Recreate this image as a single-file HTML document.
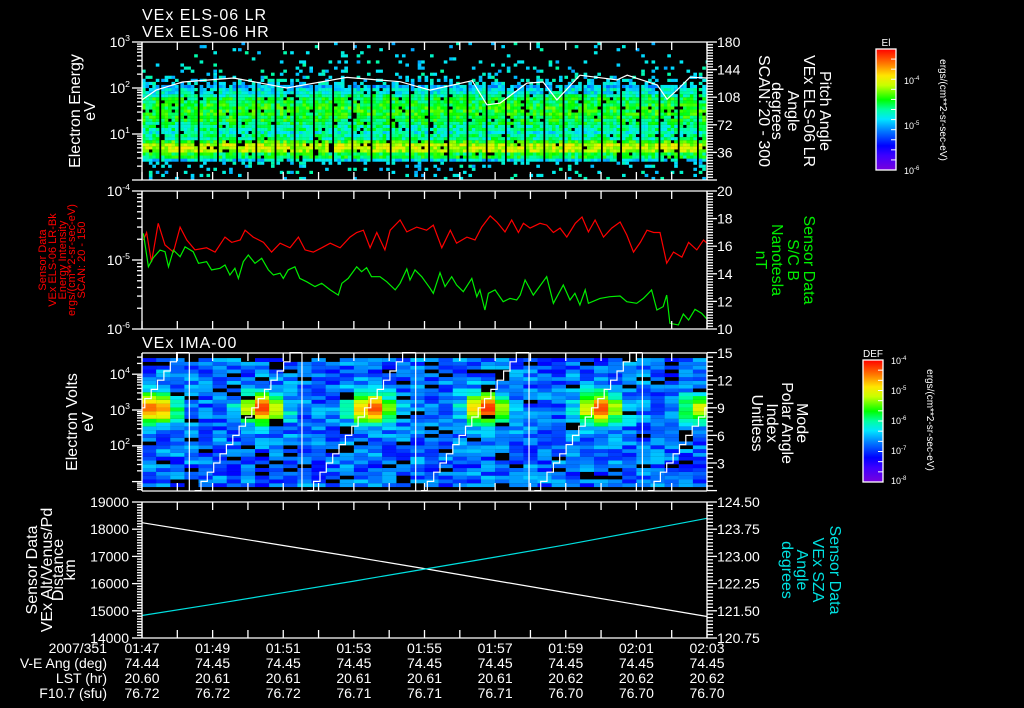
<!DOCTYPE html>
<html><head><meta charset="utf-8"><style>
html,body{margin:0;padding:0;background:#000;}
svg{display:block;}
text{font-family:"Liberation Sans",sans-serif;}
</style></head><body>
<svg id="chart" width="1024" height="708" viewBox="0 0 1024 708" xmlns="http://www.w3.org/2000/svg">
<defs>
<linearGradient id="cmap" x1="0" y1="1" x2="0" y2="0">
<stop offset="0" stop-color="rgb(120,0,220)"/><stop offset="0.12" stop-color="rgb(60,0,255)"/><stop offset="0.2" stop-color="rgb(0,0,255)"/><stop offset="0.32" stop-color="rgb(0,120,255)"/><stop offset="0.42" stop-color="rgb(0,230,255)"/><stop offset="0.5" stop-color="rgb(0,255,160)"/><stop offset="0.58" stop-color="rgb(0,255,0)"/><stop offset="0.7" stop-color="rgb(200,255,0)"/><stop offset="0.78" stop-color="rgb(255,230,0)"/><stop offset="0.88" stop-color="rgb(255,120,0)"/><stop offset="1" stop-color="rgb(255,0,0)"/>
</linearGradient>
</defs>
<g id="p1cells"></g>
<g id="p3cells"></g>
<g id="lines"></g>
<g id="axes"></g>
<g id="labels"></g>
</svg>
<script>
// ---- time axis ----
const timeTickLabels = ["01:47","01:49","01:51","01:53","01:55","01:57","01:59","02:01","02:03"];
const veAngLabels = ["74.44","74.45","74.45","74.45","74.45","74.45","74.45","74.45","74.45"];
const lstLabels = ["20.60","20.61","20.61","20.61","20.61","20.61","20.62","20.62","20.62"];
const f107Labels = ["76.72","76.72","76.72","76.71","76.71","76.71","76.70","76.70","76.70"];

// ---- panel 1 (ELS) ----
const elsProfile = [0,0,0,0.02,0.42,0.55,0.68,0.7,0.6,0.5,0.46,0.5,0.53,0.56,0.58,0.58,0.57,0.55,0.5,0.44,0.38,0.05,0,0,0,0,0,0,0,0];
const elsSpeckle = [0.1,0.12,0.15,0.25,0,0,0,0,0,0,0,0,0,0,0,0,0,0,0,0,0.3,0.45,0.3,0.2,0.14,0.1,0.08,0.07,0.06,0.06];
const elsLineTimes = [0,0.4,1.15,2.6,4.1,5.8,7.31,8.16,9.35,9.77,10.14,10.9,11.36,11.75,12.4,13.45,13.74,14.59,14.87,15.15,15.52,16];
const elsLineValues = [55,90,135,165,100,170,137,90,144,43,47,128,135,55,190,150,190,117,57,90,172,165];

// ---- panel 2 ----
const redTimes = [0.04,0.13,0.27,0.46,0.65,0.89,1.08,1.27,1.5,1.83,2.07,2.35,2.54,2.78,2.92,3.15,3.44,3.67,3.91,4.19,4.43,4.62,4.85,5.09,5.33,5.61,5.89,6.08,6.27,6.46,6.65,6.88,7.03,7.31,7.5,7.78,8.06,8.25,8.49,8.73,8.91,9.2,9.43,9.62,9.86,10.05,10.28,10.47,10.66,10.8,10.99,11.27,11.46,11.65,11.84,12.03,12.27,12.46,12.64,12.83,13.07,13.3,13.54,13.73,13.92,14.11,14.3,14.49,14.67,14.86,15.05,15.29,15.48,15.71,15.9,16];
const redValues = [1.95e-5,2.5e-5,0.93e-5,3.4e-5,1.65e-5,1.3e-5,3.0e-5,1.95e-5,1.4e-5,1.5e-5,1.3e-5,2.15e-5,1.8e-5,1.95e-5,2.7e-5,2.15e-5,1.8e-5,1.3e-5,1.75e-5,1.5e-5,2.15e-5,1.4e-5,1.3e-5,1.5e-5,1.75e-5,1.5e-5,2.15e-5,2.5e-5,2.7e-5,1.5e-5,2.5e-5,1.4e-5,2.7e-5,3.8e-5,2.55e-5,3.0e-5,2.7e-5,3.2e-5,1.5e-5,2.7e-5,1.75e-5,2.15e-5,1.95e-5,3.0e-5,4.35e-5,3.55e-5,2.55e-5,3.8e-5,2.5e-5,3.4e-5,2.9e-5,3.4e-5,3.2e-5,2.5e-5,2.9e-5,2.15e-5,3.4e-5,4.2e-5,2.55e-5,3.8e-5,2.15e-5,2.9e-5,3.55e-5,2.3e-5,1.3e-5,1.8e-5,2.7e-5,2.5e-5,2.5e-5,0.9e-5,1.3e-5,1.1e-5,1.8e-5,1.4e-5,1.95e-5,1.75e-5];
const greenTimes = [0.04,0.18,0.32,0.51,0.65,0.75,0.89,1.08,1.22,1.45,1.6,1.83,1.97,2.21,2.35,2.49,2.63,2.73,2.87,3.01,3.2,3.39,3.58,3.72,3.91,4.0,4.14,4.33,4.47,4.66,4.9,5.09,5.33,5.56,5.66,5.84,6.08,6.22,6.36,6.5,6.74,6.93,7.17,7.31,7.5,7.59,7.73,7.92,8.16,8.25,8.44,8.58,8.77,8.91,9.1,9.34,9.48,9.57,9.71,9.81,10.0,10.23,10.42,10.61,10.71,10.85,11.08,11.46,11.65,11.93,12.12,12.26,12.4,12.55,12.64,12.97,13.25,13.54,13.73,14.01,14.2,14.34,14.43,14.58,14.76,14.86,14.95,15.19,15.33,15.48,15.66,15.85,16];
const greenValues = [16.93,14.51,15.17,15.72,15.6,14.51,15.72,15.24,15.96,15.6,14.76,14.88,14.28,14.4,14.64,13.91,14.4,13.67,14.88,15.36,14.76,15.12,14.28,13.91,14.04,13.67,14.28,14.51,13.67,13.43,13.07,13.31,12.83,12.46,13.31,13.67,14.51,14.15,14.44,13.79,13.79,13.43,12.83,13.31,14.35,13.55,14.28,13.79,12.95,12.59,14.08,13.07,13.79,13.19,12.7,13.67,12.34,12.83,11.38,12.59,12.83,11.98,12.22,12.1,12.46,13.55,12.46,13.79,11.86,13.19,12.1,12.59,11.74,12.83,11.86,12.22,12.34,12.39,11.98,11.86,12.22,12.59,12.83,11.38,11.62,12.46,10.41,10.29,11.09,10.65,11.43,11.14,10.71];

// ---- panel 3 (IMA) ----
const imaPeakTimes = [0.37,3.4,6.5,9.75,12.97,15.85];
const imaPeakAmps = [0.95,0.95,0.95,0.97,0.93,0.6];
const imaPeakEnergyLog = 3.05;
const imaDropTimes = [-1.87,1.34,4.53,7.75,10.96,14.17];

// ---- panel 4 ----
const geoTimes = [0,2,4,6,8,10,12,14,16];
const distValues = [18240,17820,17400,16980,16550,16110,15670,15230,14790];
const szaValues = [121.37,121.68,122.0,122.32,122.65,122.98,123.32,123.68,124.05];

const NS="http://www.w3.org/2000/svg";
const X0=142,X1=707,T1=16;
const xs=t=>X0+t/T1*(X1-X0);
const P1={top:42,bot:180},P2={top:191,bot:329},P3={top:353,bot:491},P4={top:502,bot:638};
const y1=v=>P1.bot-(Math.log10(v)-0)/3*(P1.bot-P1.top);
const y2L=v=>P2.bot-(Math.log10(v)+6)/2*(P2.bot-P2.top);
const y2R=v=>P2.bot-(v-10)/10*(P2.bot-P2.top);
const y3=le=>410-(le-3)*35.8;
const y3R=v=>490.6-v*9.2;
const y4L=v=>P4.bot-(v-14000)/5000*(P4.bot-P4.top);
const y4R=v=>P4.bot-(v-120.75)/3.75*(P4.bot-P4.top);

const stops=[[0,120,0,220],[0.12,60,0,255],[0.2,0,0,255],[0.32,0,120,255],[0.42,0,230,255],[0.5,0,255,160],[0.58,0,255,0],[0.7,200,255,0],[0.78,255,230,0],[0.88,255,120,0],[1,255,0,0]];
function cmap(f){f=Math.max(0,Math.min(1,f));for(let i=1;i<stops.length;i++){if(f<=stops[i][0]){const a=stops[i-1],b=stops[i],u=(f-a[0])/(b[0]-a[0]);return `rgb(${Math.round(a[1]+u*(b[1]-a[1]))},${Math.round(a[2]+u*(b[2]-a[2]))},${Math.round(a[3]+u*(b[3]-a[3]))})`;}}return "rgb(255,0,0)";}
function hash(i,j,k){let n=Math.imul(i,374761393)+Math.imul(j,668265263)+Math.imul(k||0,2246822519);n=Math.imul(n^(n>>>13),1274126177);n=n^(n>>>16);return (n>>>0)/4294967296;}

function mk(tag,attrs,parent){const e=document.createElementNS(NS,tag);for(const k in attrs)e.setAttribute(k,attrs[k]);parent.appendChild(e);return e;}

// ---- panel 1 cells ----
const g1=document.getElementById('p1cells');
const sweepW=19.2, cellW=3.44, nCellsPerSweep=5;
const ebinsPerDec=15, eH=(P1.bot-P1.top)/3/ebinsPerDec;
let s=0;
for(let sx=X0; sx<X1; sx+=sweepW, s++){
  for(let c=0;c<nCellsPerSweep;c++){
    const cx=sx+c*cellW; if(cx>=X1) break;
    const w=Math.min(cellW+0.2,X1-cx);
    for(let j=0;j<3*ebinsPerDec;j++){
      const le=(j+0.5)/ebinsPerDec;
      const pi=Math.min(29,Math.floor(le*10));
      const prof=elsProfile[pi], sp=elsSpeckle[pi];
      const h=hash(s*7+c,j,1), h2=hash(s*7+c,j,2);
      let f=null;
      if(prof>0.1){ if(h2<0.05) continue; f=prof+(h-0.5)*0.16; }
      else if(h<sp){ f=0.36+h2*0.14; }
      if(f===null) continue;
      const r=document.createElementNS(NS,'rect');
      r.setAttribute('x',cx.toFixed(2));r.setAttribute('y',(P1.bot-(j+1)*eH).toFixed(2));
      r.setAttribute('width',w.toFixed(2));r.setAttribute('height',(eH+0.1).toFixed(2));
      r.setAttribute('fill',cmap(f));
      
      
      g1.appendChild(r);
    }
  }
}

// ---- panel 3 cells ----
const g3=document.getElementById('p3cells');
const imaCellW=14.125, imaLo=0.85, imaHi=4.45, imaNb=34, imaStep=(imaHi-imaLo)/imaNb;
for(let i=0;i<40;i++){
  const t=(i+0.5)*imaCellW/(X1-X0)*T1;
  for(let j=0;j<imaNb;j++){
    const le=imaLo+(j+0.5)*imaStep;
    const h=hash(i,j,5),h2=hash(i,j,6);
    if(h2<0.08) continue;
    let pk=0;
    for(let k=0;k<imaPeakTimes.length;k++){
      const dt=(t-imaPeakTimes[k])/0.6, de=(le-imaPeakEnergyLog)/0.42;
      pk=Math.max(pk,imaPeakAmps[k]*Math.exp(-dt*dt-de*de));
    }
    const bg=0.2+0.2*h;
    const f=bg+(0.98-bg)*pk;
    const r=document.createElementNS(NS,'rect');
    r.setAttribute('x',(X0+i*imaCellW).toFixed(2));r.setAttribute('y',y3(le+imaStep/2).toFixed(2));
    r.setAttribute('width',(imaCellW+0.2).toFixed(2));r.setAttribute('height',(imaStep*35.8+0.1).toFixed(2));
    r.setAttribute('fill',cmap(f));
    
    
    g3.appendChild(r);
  }
}

// ---- lines ----
const gl=document.getElementById('lines');
function poly(pts,color,name){
  const p=document.createElementNS(NS,'polyline');
  p.setAttribute('points',pts.map(q=>q[0].toFixed(1)+','+q[1].toFixed(1)).join(' '));
  p.setAttribute('fill','none');p.setAttribute('stroke',color);p.setAttribute('stroke-width','1.2');
  
  
  gl.appendChild(p);
}
poly(elsLineTimes.map((t,i)=>[xs(t),y1(elsLineValues[i])]),'#fff','els-energy-line');
poly(redTimes.map((t,i)=>[xs(t),y2L(redValues[i])]),'#ff0000','energy-intensity-line');
poly(greenTimes.map((t,i)=>[xs(t),y2R(greenValues[i])]),'#00ee00','sc-b-line');
// staircase: one polyline per sweep
for(let k=0;k<imaDropTimes.length;k++){
  const td=imaDropTimes[k], next=k+1<imaDropTimes.length?Math.min(imaDropTimes[k+1],T1):T1;
  const pts=[];
  for(let st=0;st<16;st++){
    let ta=td+0.15+st*0.18, tb=(st===15)?next:ta+0.18;
    if(tb<=0||ta>=next) continue;
    ta=Math.max(0,ta); tb=Math.min(tb,next);
    pts.push([xs(ta),y3R(st)],[xs(tb),y3R(st)]);
  }
  if(pts.length) poly(pts,'#fff','polar-angle-index-line');
  if(td>0){ const l=mk('line',{x1:xs(td),x2:xs(td),y1:P3.top,y2:P3.bot,stroke:'#fff','stroke-width':1.2},gl);   }
}
poly(geoTimes.map((t,i)=>[xs(t),y4L(distValues[i])]),'#fff','distance-line');
poly(geoTimes.map((t,i)=>[xs(t),y4R(szaValues[i])]),'#00e0e0','sza-line');

// ---- axes ----
const ga=document.getElementById('axes');
function ln(x1,y1_,x2,y2_){mk('line',{x1:x1,y1:y1_,x2:x2,y2:y2_,stroke:'#fff','stroke-width':1.3},ga);}
function txt(x,y,s,opt,parent){opt=opt||{};const t=mk('text',{x:x,y:y,fill:opt.fill||'#fff','font-size':opt.size||14,'text-anchor':opt.anchor||'start'},parent||document.getElementById('labels'));if(opt.rot!==undefined)t.setAttribute('transform',`rotate(${opt.rot} ${x} ${y})`);if(opt.ls)t.setAttribute('letter-spacing',opt.ls);t.textContent=s;return t;}
function supTxt(x,y,base,exp,name,size){const t=mk('text',{x:x,y:y,fill:'#fff','font-size':size||14,'text-anchor':'end'},document.getElementById('labels'));const a=mk('tspan',{},t);a.textContent=base;const b=mk('tspan',{'font-size':(size||14)*0.62,dy:-6},t);b.textContent=exp;return t;}
[P1,P2,P3,P4].forEach((P,k)=>{
  ln(X0,P.top,X1,P.top);ln(X0,P.bot,X1,P.bot);ln(X0,P.top,X0,P.bot);ln(X1,P.top,X1,P.bot);
  for(let m=0;m<=16;m++){const x=xs(m);ln(x,P.top,x,P.top+8);ln(x,P.bot,x,P.bot-8);}
});
function logTicks(P,lo,hi){for(let d=lo;d<hi;d++){for(let m=1;m<10;m++){const v=d+Math.log10(m);const y=P.bot-(v-lo)/(hi-lo)*(P.bot-P.top);ln(X0-(m===1?10:5),y,X0,y);}}ln(X0-10,P.top,X0,P.top);}
logTicks(P1,0,3);logTicks(P2,-6,-4);
for(let d=0;d<5;d++)for(let m=1;m<10;m++){const y=y3(d+Math.log10(m));if(y>=P3.top&&y<=P3.bot)ln(X0-(m===1?10:5),y,X0,y);}
function linTicksR(P,n,minor){for(let i=0;i<=n*minor;i++){const y=P.bot-i/(n*minor)*(P.bot-P.top);ln(X1,y,X1+(i%minor===0?10:6),y);}}
linTicksR(P1,5,10);linTicksR(P2,5,10);linTicksR(P4,5,8);
for(let i=0;i<=30;i++){const y=y3R(i*0.5);if(y>=P3.top-0.5)ln(X1,y,X1+(i%6===0?10:6),y);}
for(let i=0;i<=50;i++){const y=P4.bot-i/50*(P4.bot-P4.top);ln(X0-(i%10===0?10:5),y,X0,y);}

// ---- tick labels ----
supTxt(130,47,'10','3','y-tick-1e3');supTxt(130,93,'10','2','y-tick-1e2');supTxt(130,139,'10','1','y-tick-1e1');
supTxt(130,196,'10','-4','y-tick-1e-4');supTxt(130,265,'10','-5','y-tick-1e-5');supTxt(130,334,'10','-6','y-tick-1e-6');
supTxt(130,379,'10','4','y-tick-1e4');supTxt(130,415,'10','3','y-tick-1e3');supTxt(130,450,'10','2','y-tick-1e2');
['180','144','108','72','36'].forEach((s,i)=>txt(717,47+i*27.6,s,{name:'pitch-tick'}));
['20','18','16','14','12','10'].forEach((s,i)=>txt(717,196+i*27.6,s,{name:'bfield-tick'}));
['15','12','9','6','3'].forEach((s,i)=>txt(717,358+i*27.6,s,{name:'polar-index-tick'}));
['19000','18000','17000','16000','15000','14000'].forEach((s,i)=>txt(129,507+i*27.2,s,{anchor:'end',name:'distance-tick'}));
['124.50','123.75','123.00','122.25','121.50','120.75'].forEach((s,i)=>txt(717,507+i*27.2,s,{name:'sza-tick'}));
timeTickLabels.forEach((s,i)=>txt(xs(i*2),653,s,{anchor:'middle',name:'time-tick'}));
veAngLabels.forEach((s,i)=>txt(xs(i*2),668,s,{anchor:'middle',name:'ve-angle-value'}));
lstLabels.forEach((s,i)=>txt(xs(i*2),683,s,{anchor:'middle',name:'lst-value'}));
f107Labels.forEach((s,i)=>txt(xs(i*2),698,s,{anchor:'middle',name:'f107-value'}));
txt(107,653,'2007/351',{anchor:'end',name:'date-label'});
txt(107,668,'V-E Ang (deg)',{anchor:'end',name:'ve-angle-label'});
txt(107,683,'LST (hr)',{anchor:'end',name:'lst-label'});
txt(107,698,'F10.7 (sfu)',{anchor:'end',name:'f107-label'});

// ---- titles ----
txt(142,20,'VEx ELS-06 LR',{size:16,ls:1,name:'title-els-lr'});
txt(142,37,'VEx ELS-06 HR',{size:16,ls:1,name:'title-els-hr'});
txt(142,348,'VEx IMA-00',{size:16,ls:1,name:'title-ima'});
function vlines(lines,xsArr,cy,rot,fill,size,name){lines.forEach((s,i)=>txt(xsArr[i],cy,s,{anchor:'middle',rot:rot,fill:fill,size:size,name:name}));}
vlines(['Electron Energy','eV'],[80,95],111,-90,'#fff',16,'y-axis-title-els');
vlines(['Pitch Angle','VEx ELS-06 LR','Angle','degrees','SCAN: 20 - 300'],[820,804,788,772,759],111,90,'#fff',16,'y-axis-title-pitch');
vlines(['Sensor Data','VEx ELS-06 LR-Bk','Energy Intensity','ergs/(cm**2-sr-sec-eV)','SCAN: 20 - 150'],[46,56,66,75,85],260,-90,'#ff0000',11,'y-axis-title-intensity');
vlines(['Sensor Data','S/C B','Nanotesla','nT'],[804,788,772,756],260,90,'#00ee00',16,'y-axis-title-bfield');
vlines(['Electron Volts','eV'],[77,93],422,-90,'#fff',16,'y-axis-title-ima');
vlines(['Mode','Polar Angle','Index','Unitless'],[797,782,767,752],423,90,'#fff',16,'y-axis-title-polar');
vlines(['Sensor Data','VEx Alt/Venus/Pd','Distance','km'],[37,52,63,75],570,-90,'#fff',16,'y-axis-title-distance');
vlines(['Sensor Data','VEx SZA','Angle','degrees'],[830,813,797,782],570,90,'#00e0e0',16,'y-axis-title-sza');

// ---- colorbars ----
const gl2=document.getElementById('labels');
function cbar(x,y,w,h,name,lab,ticks,unitX,unitY){
  const r=mk('rect',{x:x,y:y,width:w,height:h,fill:'url(#cmap)',stroke:'#fff','stroke-width':1.3},gl2);
  
  txt(x+w/2,y-3,lab,{anchor:'middle',size:10,name:name+'-title'});
  ticks.forEach(([yy,e])=>{const t=mk('text',{x:x+w+8,y:yy+4,fill:'#fff','font-size':9},gl2);const a=mk('tspan',{},t);a.textContent='10';const b=mk('tspan',{'font-size':6,dy:-4},t);b.textContent=e;});
  for(let i=1;i<12;i++){const yy=y+i*h/12;mk('line',{x1:x+w-5,x2:x+w,y1:yy,y2:yy,stroke:'#fff'},gl2);}
  txt(unitX,unitY,'ergs/(cm**2-sr-sec-eV)',{anchor:'middle',rot:90,size:10,name:name+'-units'});
}
cbar(876,49,20,121,'els-colorbar','El',[[80,'-4'],[125,'-5'],[170,'-6']],940,110);
cbar(863,360,20,122,'ima-colorbar','DEF',[[360,'-4'],[390,'-5'],[420,'-6'],[450,'-7'],[480,'-8']],927,420);
</script>
</body></html>
